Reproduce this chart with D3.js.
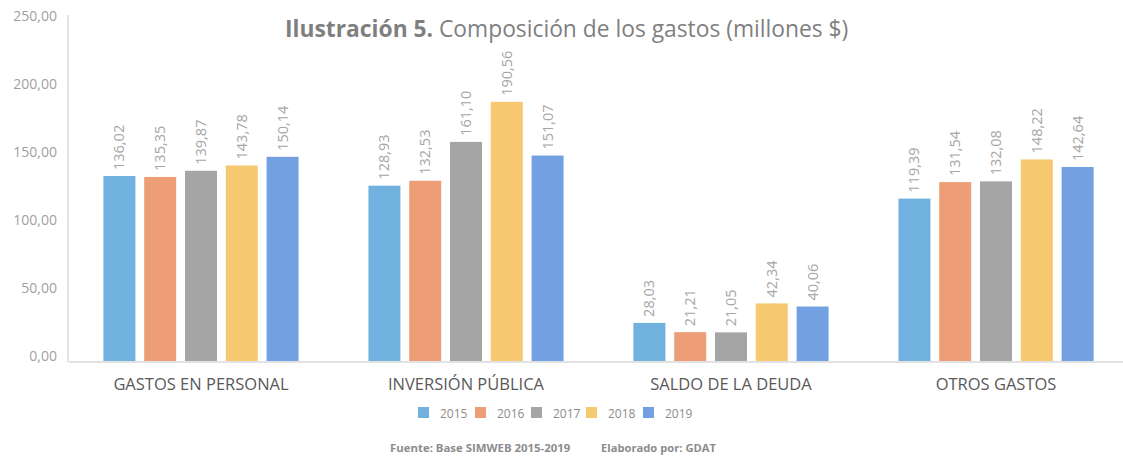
<!DOCTYPE html>
<html><head><meta charset="utf-8">
<script src="https://cdn.jsdelivr.net/npm/d3@7"></script>
<style>body{margin:0;background:#fff}svg{display:block;font-family:"Open Sans",sans-serif}</style>
</head><body><svg id="c" width="1123" height="458"></svg>
<script>
const categories = ["GASTOS EN PERSONAL","INVERSIÓN PÚBLICA","SALDO DE LA DEUDA","OTROS GASTOS"];
const years = ["2015","2016","2017","2018","2019"];
const v2015 = [136.02,128.93,28.03,119.39];
const v2016 = [135.35,132.53,21.21,131.54];
const v2017 = [139.87,161.10,21.05,132.08];
const v2018 = [143.78,190.56,42.34,148.22];
const v2019 = [150.14,151.07,40.06,142.64];
const yTicks = [0,50,100,150,200,250];
const colors = ["#71B1DF","#EE9E76","#A5A5A5","#F6C870","#72A0E0"];
const series = [v2015,v2016,v2017,v2018,v2019];

const svg = d3.select("#c");
const loc = d3.formatLocale({decimal:",",thousands:".",grouping:[3],currency:["$",""]});
const fmt = loc.format(".2f");

const x0 = d3.scaleBand().domain(categories).range([68.5,1128.5]);
const x1 = d3.scaleBand().domain(years).range([0,x0.bandwidth()]).paddingInner(0.216).paddingOuter(0.856);
const y = d3.scaleLinear().domain([0,250]).range([361,21]);
const color = d3.scaleOrdinal().domain(years).range(colors);

// title
const t = svg.append("text").attr("x",285).attr("y",37).attr("fill","#7f7f7f").style("font-size","22.8px");
t.append("tspan").attr("font-weight","bold").text("Ilustración 5.");
t.append("tspan").text(" Composición de los gastos (millones $)");

// y axis labels
const ya = svg.append("g").attr("transform","translate(57,0)")
  .call(d3.axisLeft(y).tickValues(yTicks).tickFormat(fmt).tickSize(0).tickPadding(0));
ya.select(".domain").remove();
ya.selectAll("text").attr("fill","#a0a0a0").style("font-size","14px").style("font-family","Open Sans").attr("dy","-0.05em");

// bars
const g = svg.append("g").selectAll("g").data(categories).join("g")
  .attr("transform",d=>`translate(${x0(d)},0)`);
years.forEach((yr,si)=>{
  g.append("rect")
    .attr("x",x1(yr)).attr("width",x1.bandwidth())
    .attr("y",(d,i)=>y(series[si][i])).attr("height",(d,i)=>y(0)-y(series[si][i]))
    .attr("fill",color(yr));
  g.append("text")
    .attr("transform",(d,i)=>`translate(${x1(yr)+x1.bandwidth()/2+5},${y(series[si][i])-6}) rotate(-90)`)
    .attr("fill","#a6a6a6").style("font-size","14.5px")
    .text((d,i)=>fmt(series[si][i]));
});

// axes lines
svg.append("line").attr("x1",68).attr("x2",68).attr("y1",15).attr("y2",362).attr("stroke","#d9d9d9").attr("stroke-width",1.5);
const xa = svg.append("g").attr("transform","translate(0,361.5)")
  .call(d3.axisBottom(x0).tickSize(0).tickPadding(0));
xa.select(".domain").attr("stroke","#d9d9d9").attr("stroke-width",1.5);
xa.selectAll("text").attr("fill","#595959").style("font-size","16.5px").style("font-family","Open Sans").attr("dy",0).attr("y",28.5);

// legend
const lg = svg.append("g").selectAll("g").data(years).join("g")
  .attr("transform",(d,i)=>`translate(${[418,475,531,586,643][i]},407)`);
lg.append("rect").attr("width",11).attr("height",11).attr("fill",d=>color(d));
lg.append("text").attr("x",22).attr("y",10.5).attr("fill","#8c8c8c").style("font-size","12px").text(d=>d);

// footer
svg.append("text").attr("x",390).attr("y",452).attr("fill","#8c8c8c").attr("font-weight","bold").style("font-size","11.4px").text("Fuente: Base SIMWEB 2015-2019");
svg.append("text").attr("x",601).attr("y",452).attr("fill","#8c8c8c").attr("font-weight","bold").style("font-size","11.2px").text("Elaborado por: GDAT");
</script></body></html>
